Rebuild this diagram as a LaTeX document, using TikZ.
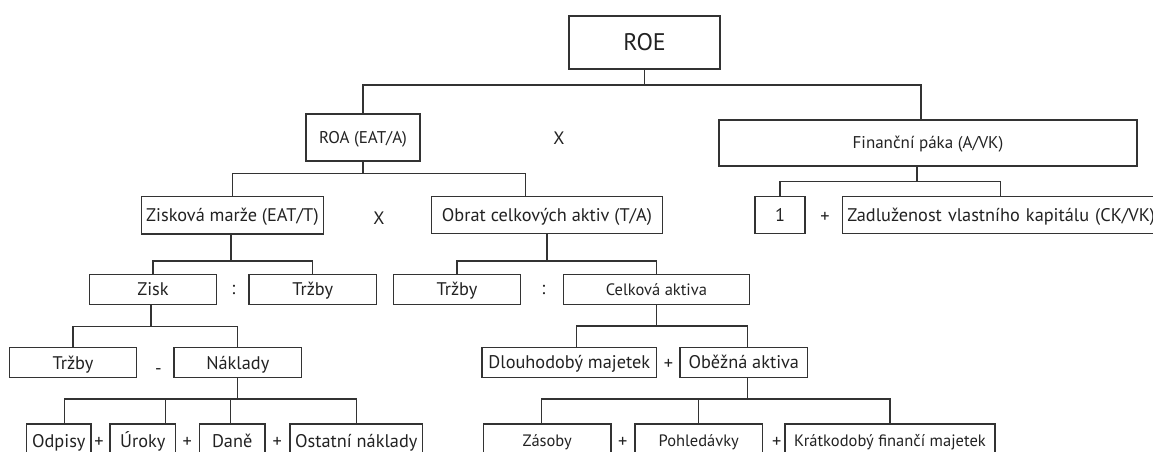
\documentclass[tikz,border=0pt]{standalone}
\usepackage{fontspec}
\setmainfont{PT Sans}
\definecolor{linec}{HTML}{333333}
\definecolor{txtc}{HTML}{222222}
\tikzset{
  box/.style={draw=linec, line width=1.2pt, inner sep=0pt, text=txtc, text depth=0pt},
  conn/.style={draw=linec, line width=1.2pt},
  op/.style={inner sep=0pt, text=txtc, text depth=0pt},
  fbig/.style={font=\fontsize{24}{28}\selectfont, text height=16.8pt},
  fmain/.style={font=\fontsize{18.3}{22}\selectfont, text height=12.8pt},
  fmid/.style={font=\fontsize{17}{21}\selectfont, text height=11.9pt},
  froa/.style={font=\fontsize{17}{21}\selectfont, text height=11.9pt},
  fsmall/.style={font=\fontsize{16.5}{19}\selectfont, text height=11.5pt},
  fop/.style={font=\fontsize{18}{21}\selectfont, text height=12.6pt},
}
\begin{document}
\begin{tikzpicture}[x=1pt, y=-1pt]
\useasboundingbox (0,0) rectangle (1153,451);
\clip (0,0) rectangle (1153,451);

% ---- level 0 / 1
\node[box, fbig, minimum width=151pt, minimum height=53pt] (roe) at (644.5,42.5) {ROE};
\node[box, froa, minimum width=114pt, minimum height=47pt] (roa) at (363,137.5) {ROA (EAT/A)};
\node[op, fop] (x1) at (559,138) {X};
\node[box, fmid, minimum width=418pt, minimum height=46pt] (fin) at (928,143) {Finanční páka (A/VK)};

% ---- level 2
\node[box, fmain, minimum width=181.6pt, minimum height=37.3pt] (zis) at (232.5,215.3) {Zisková marže (EAT/T)};
\node[op, fop] (x2) at (379,218) {X};
\node[box, fmain, minimum width=231pt, minimum height=37pt] (obr) at (547,215) {Obrat celkových aktiv (T/A)};
\node[box, fmain, minimum width=50pt, minimum height=36.6pt] (one) at (780,215) {1};
\node[op, fmain] (p0) at (825,216) {+};
\node[box, fmain, anchor=west, minimum height=36.6pt, text width=370pt, align=left, inner xsep=5pt] (zadl) at (841.7,215) {Zadluženost vlastního kapitálu (CK/VK)};

% ---- level 3
\node[box, fmain, minimum width=127pt, minimum height=30pt] (zisk) at (153,289.4) {Zisk};
\node[op, fmain] (c1) at (233.3,288.4) {:};
\node[box, fmain, minimum width=127.5pt, minimum height=30pt] (trz1) at (312.7,289.4) {Tržby};
\node[box, fmain, minimum width=127pt, minimum height=30pt] (trz2) at (457,289.4) {Tržby};
\node[op, fmain] (c2) at (543.3,288.4) {:};
\node[box, fsmall, minimum width=186pt, minimum height=30pt] (cel) at (656.4,289.4) {Celková aktiva};

% ---- level 4
\node[box, fmain, minimum width=127.4pt, minimum height=30pt] (trz3) at (73,362.7) {Tržby};
\node[op, fmain] (m1) at (158.3,368) {-};
\node[box, fmain, minimum width=127.7pt, minimum height=30pt] (nak) at (237.8,362.7) {Náklady};
\node[box, fmain, minimum width=174.7pt, minimum height=30pt] (dlo) at (569.3,362.5) {Dlouhodobý majetek};
\node[op, fmain] (p1) at (668.5,363) {+};
\node[box, fmain, minimum width=127.7pt, minimum height=30pt] (obe) at (743.8,362.5) {Oběžná aktiva};

% ---- level 5 (cut by the lower edge)
\node[box, fmain, minimum width=64.3pt, minimum height=34pt] (odp) at (58.8,441) {Odpisy};
\node[op, fmain] (p2) at (99,441) {+};
\node[box, fmain, minimum width=65.7pt, minimum height=34pt] (uro) at (142.8,441) {Úroky};
\node[op, fmain] (p3) at (187.3,441) {+};
\node[box, fmain, minimum width=65.7pt, minimum height=34pt] (dan) at (232.2,441) {Daně};
\node[op, fmain] (p4) at (277.3,441) {+};
\node[box, fmain, minimum width=132.7pt, minimum height=34pt] (ost) at (356.3,441) {Ostatní náklady};
\node[box, fsmall, minimum width=127.7pt, minimum height=34pt] (zas) at (547.2,441) {Zásoby};
\node[op, fmain] (p5) at (622.7,441) {+};
\node[box, fsmall, minimum width=127.3pt, minimum height=34pt] (poh) at (698.7,441) {Pohledávky};
\node[op, fmain] (p6) at (776.7,441) {+};
\node[box, fsmall, minimum width=210pt, minimum height=34pt] (kra) at (890,441) {Krátkodobý finančí majetek};

% ---- bus lines
\coordinate (bRoe) at (0,85);
\coordinate (bRoa) at (0,173.3);
\coordinate (bFin) at (0,181.7);
\coordinate (bL2) at (0,261);
\coordinate (bZisk) at (0,326.7);
\coordinate (bCel) at (0,326);
\coordinate (bL4) at (0,399);

% attachment points that sit off the box centres
\coordinate (finT) at ([xshift=-7pt]fin.north);
\coordinate (finB) at ([xshift=-11pt]fin.south);
\coordinate (obrT) at ([xshift=-21.5pt]obr.north);
\coordinate (zadlT) at ([xshift=159pt]zadl.north west);
\coordinate (zisB) at ([xshift=-1.5pt]zis.south);
\coordinate (ziskB) at ([xshift=-2pt]zisk.south);
\coordinate (dloT) at ([xshift=7.2pt]dlo.north);
\coordinate (obeT) at ([xshift=3.7pt]obe.north);
\coordinate (odpT) at ([xshift=5.5pt]odp.north);
\coordinate (uroT) at ([xshift=23pt]uro.north);
\coordinate (danT) at ([xshift=-2pt]dan.north);
\coordinate (obeB) at ([xshift=3.5pt]obe.south);
\coordinate (zasT) at ([xshift=-5.5pt]zas.north);

% ROE
\draw[conn] (roe.south) -- (roe.south |- bRoe);
\draw[conn] (roa.north) |- (finT |- bRoe) -- (finT);
% ROA
\draw[conn] (roa.south) -- (roa.south |- bRoa);
\draw[conn] (zis.north) |- (obrT |- bRoa) -- (obrT);
% Financni paka
\draw[conn] (finB) -- (finB |- bFin);
\draw[conn] (one.north) |- (zadlT |- bFin) -- (zadlT);
% Ziskova marze
\draw[conn] (zisB) -- (zisB |- bL2);
\draw[conn] (zisk.north) |- (trz1.north |- bL2) -- (trz1.north);
% Obrat celkovych aktiv
\draw[conn] (obr.south) -- (obr.south |- bL2);
\draw[conn] (trz2.north) |- (cel.north |- bL2) -- (cel.north);
% Zisk
\draw[conn] (ziskB) -- (ziskB |- bZisk);
\draw[conn] (trz3.north) |- (nak.north |- bZisk) -- (nak.north);
% Celkova aktiva
\draw[conn] (cel.south) -- (cel.south |- bCel);
\draw[conn] (dloT) |- (obeT |- bCel) -- (obeT);
% Naklady
\draw[conn] (nak.south) -- (nak.south |- bL4);
\draw[conn] (odpT) |- (ost.north |- bL4) -- (ost.north);
\draw[conn] (uroT) -- (uroT |- bL4);
\draw[conn] (danT) -- (danT |- bL4);
% Obezna aktiva
\draw[conn] (obeB) -- (obeB |- bL4);
\draw[conn] (zasT) |- (kra.north |- bL4) -- (kra.north);
\draw[conn] (poh.north) -- (poh.north |- bL4);
\end{tikzpicture}
\end{document}
